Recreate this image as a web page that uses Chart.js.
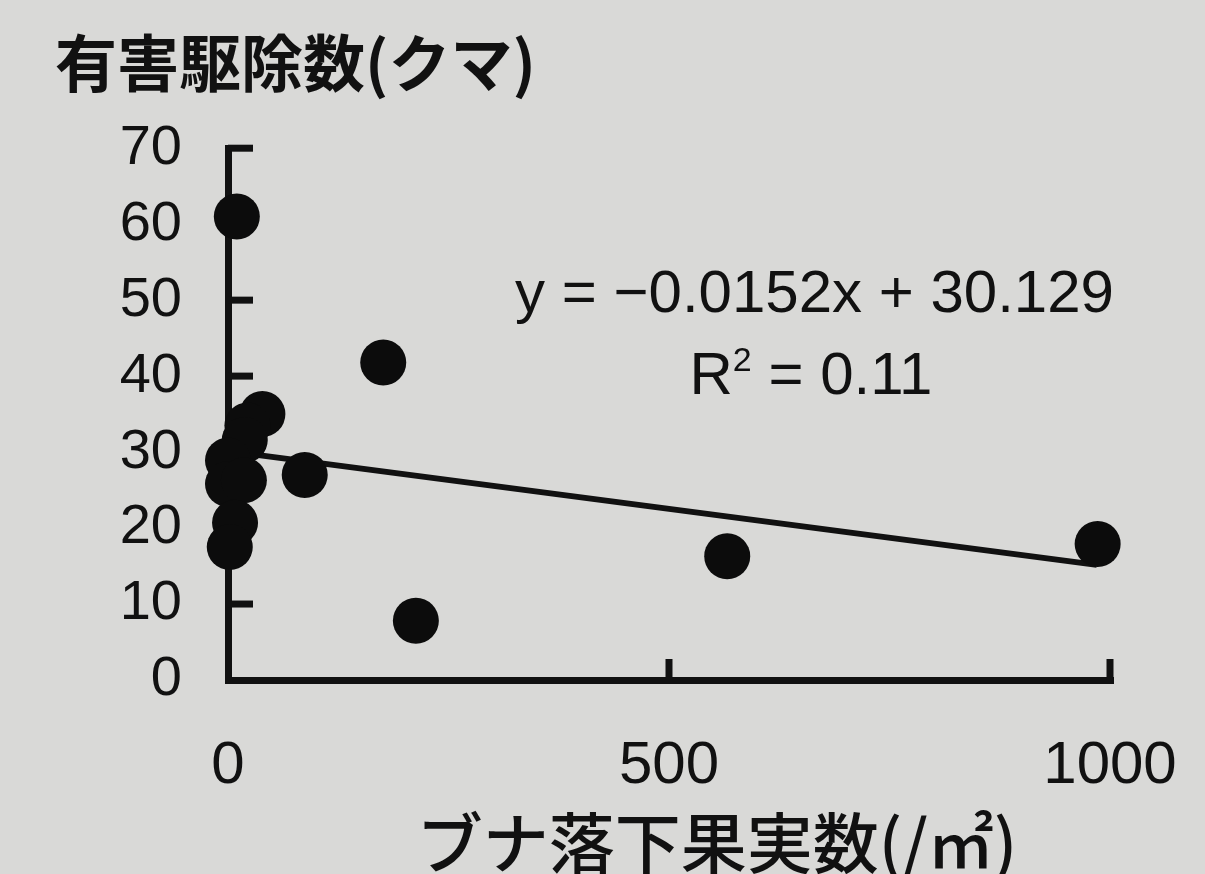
<!DOCTYPE html>
<html lang="ja">
<head>
<meta charset="utf-8">
<title>ブナ落下果実数と有害駆除数(クマ)</title>
<script src="https://cdn.jsdelivr.net/npm/chart.js@4.4.1/dist/chart.umd.min.js"></script>
<style>
  html, body { margin: 0; padding: 0; background: #d9d9d7; }
  #wrap { width: 1205px; height: 874px; position: relative; }
</style>
</head>
<body>
<div id="wrap"><canvas id="chart"></canvas></div>
<script>
// Beech nut fall per m² (x) against bears culled as nuisance animals (y)
const beechFall = [10, 176, 87, 213, 566, 986, 39, 22, 19, 0, 0, 18, 8, 2];
const bearCulls = [61, 41.8, 27, 7.8, 16.3, 17.9, 35, 33.5, 31.6, 28.9, 25.8, 26.3, 20.7, 17.5];

// Axis tick values
const yTickValues = [0, 10, 20, 30, 40, 50, 60, 70];
const xTickValues = [0, 500, 1000];

// Least-squares fit shown on the chart
const trendSlope = -0.0152;
const trendIntercept = 30.129;
const trendSpan = [0, 985];
const rSquared = 0.11;

// Texts
const chartTitle = '有害駆除数(クマ)';
const xAxisTitle = 'ブナ落下果実数(/㎡)';

const INK = '#111111';
const LATIN = '"Liberation Sans", Arial, sans-serif';
const CJK = '"Noto Sans CJK JP", sans-serif';

const points = beechFall.map((x, i) => ({ x, y: bearCulls[i] }));
const trendLine = trendSpan.map(x => ({ x, y: trendIntercept + trendSlope * x }));
const equationText = 'y = \u2212' + Math.abs(trendSlope) + 'x + ' + trendIntercept;

// Tick marks drawn inward from the axes, plus equation and axis caption
const decorations = {
  id: 'decorations',
  beforeDatasetsDraw(chart) {
    const { ctx, scales: { x, y } } = chart;
    const x0 = x.getPixelForValue(0);
    const y0 = y.getPixelForValue(0);
    ctx.save();
    ctx.strokeStyle = INK;
    ctx.lineWidth = 7;
    ctx.lineCap = 'butt';
    yTickValues.forEach(v => {
      if (v === 0) return;
      const py = y.getPixelForValue(v);
      ctx.beginPath();
      ctx.moveTo(x0, py);
      ctx.lineTo(x0 + 25, py);
      ctx.stroke();
    });
    xTickValues.forEach(v => {
      if (v === 0) return;
      const px = x.getPixelForValue(v);
      ctx.beginPath();
      ctx.moveTo(px, y0);
      ctx.lineTo(px, y0 - 21);
      ctx.stroke();
    });
    ctx.restore();
  },
  afterDraw(chart) {
    const { ctx, scales: { x, y } } = chart;
    ctx.save();
    ctx.fillStyle = INK;
    ctx.textBaseline = 'alphabetic';

    // regression equation
    ctx.font = '60px ' + LATIN;
    ctx.textAlign = 'center';
    ctx.fillText(equationText, x.getPixelForValue(665), y.getPixelForValue(48.4));

    // R² line, built from pieces so the exponent sits raised
    const base = y.getPixelForValue(37.6);
    const cx = x.getPixelForValue(661);
    const tail = ' = ' + rSquared;
    ctx.textAlign = 'left';
    ctx.font = '60px ' + LATIN;
    const wR = ctx.measureText('R').width;
    const wTail = ctx.measureText(tail).width;
    ctx.font = '34px ' + LATIN;
    const wSup = ctx.measureText('2').width;
    let px = cx - (wR + wSup + wTail) / 2;
    ctx.font = '60px ' + LATIN;
    ctx.fillText('R', px, base);
    px += wR;
    ctx.font = '34px ' + LATIN;
    ctx.fillText('2', px, base - 23);
    px += wSup;
    ctx.font = '60px ' + LATIN;
    ctx.fillText(tail, px, base);

    // x-axis caption
    ctx.font = '500 66px ' + CJK;
    ctx.textAlign = 'center';
    ctx.textBaseline = 'middle';
    ctx.fillText(xAxisTitle, 717, 843);
    ctx.restore();
  }
};

new Chart(document.getElementById('chart'), {
  type: 'scatter',
  data: {
    datasets: [
      {
        type: 'line',
        data: trendLine,
        borderColor: INK,
        borderWidth: 6,
        pointRadius: 0,
        pointHoverRadius: 0,
        fill: false,
        clip: false,
        order: 1
      },
      {
        data: points,
        backgroundColor: '#0c0c0c',
        borderWidth: 0,
        pointRadius: 23,
        pointHoverRadius: 23,
        clip: false,
        order: 0
      }
    ]
  },
  options: {
    responsive: true,
    maintainAspectRatio: false,
    animation: false,
    events: [],
    layout: { padding: { left: 55, top: 29, right: 95, bottom: 0 } },
    plugins: {
      legend: { display: false },
      tooltip: { enabled: false },
      title: {
        display: true,
        text: chartTitle,
        align: 'start',
        color: INK,
        font: { family: CJK, size: 62, weight: 'bold', lineHeight: 1.1 },
        padding: { top: 0, bottom: 51 }
      }
    },
    scales: {
      x: {
        type: 'linear',
        min: 0,
        max: 1000,
        afterBuildTicks: s => { s.ticks = xTickValues.map(value => ({ value })); },
        afterFit: s => { s.height = 194; s.paddingLeft = 0; s.paddingRight = 0; },
        grid: { display: false, drawTicks: false, lineWidth: 7 },
        border: { display: true, color: INK, width: 7 },
        ticks: {
          color: INK,
          padding: 50,
          maxRotation: 0,
          font: { family: LATIN, size: 60 },
          callback: value => String(value)
        }
      },
      y: {
        type: 'linear',
        min: 0,
        max: 70,
        afterBuildTicks: s => { s.ticks = yTickValues.map(value => ({ value })); },
        afterFit: s => { s.width = 173; s.paddingTop = 0; s.paddingBottom = 0; },
        grid: { display: false, drawTicks: false, lineWidth: 7 },
        border: { display: true, color: INK, width: 7 },
        ticks: {
          color: INK,
          padding: 46,
          font: { family: LATIN, size: 56 },
          callback: value => String(value)
        }
      }
    }
  },
  plugins: [decorations]
});
</script>
</body>
</html>
